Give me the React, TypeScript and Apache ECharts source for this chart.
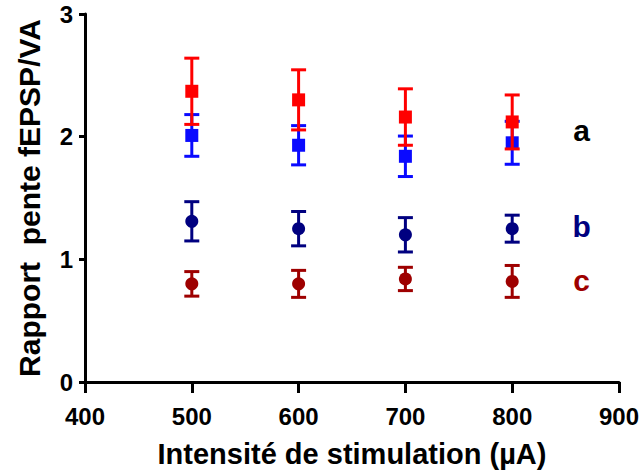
import React, { useEffect, useRef } from "react";
import * as echarts from "echarts";

const intensities = [500, 600, 700, 800];
const redMean = [2.37, 2.3, 2.16, 2.12];
const redErr = [0.27, 0.245, 0.23, 0.22];
const blueMean = [2.01, 1.93, 1.84, 1.95];
const blueErr = [0.17, 0.16, 0.165, 0.175];
const navyMean = [1.31, 1.25, 1.2, 1.25];
const navyErr = [0.16, 0.14, 0.14, 0.11];
const darkRedMean = [0.8, 0.8, 0.84, 0.82];
const darkRedErr = [0.1, 0.11, 0.095, 0.13];
const groupLabels = [
  { text: "a", y: 2.05, color: "#000000" },
  { text: "b", y: 1.27, color: "#000080" },
  { text: "c", y: 0.83, color: "#9e0000" },
];
const labelX = 865;

const FONT = "'Liberation Sans', Arial, sans-serif";

function errorSeries(means: number[], errs: number[], color: string, z: number) {
  return {
    type: "custom",
    z,
    silent: true,
    data: intensities.map((x, i) => [x, means[i] - errs[i], means[i] + errs[i]]),
    renderItem: (params: any, api: any) => {
      const x = api.value(0);
      const lo = api.coord([x, api.value(1)]);
      const hi = api.coord([x, api.value(2)]);
      const hw = 7.5;
      const style = { stroke: color, lineWidth: 3 };
      return {
        type: "group",
        children: [
          { type: "line", shape: { x1: lo[0], y1: lo[1], x2: hi[0], y2: hi[1] }, style },
          { type: "line", shape: { x1: lo[0] - hw, y1: lo[1], x2: lo[0] + hw, y2: lo[1] }, style },
          { type: "line", shape: { x1: hi[0] - hw, y1: hi[1], x2: hi[0] + hw, y2: hi[1] }, style },
        ],
      };
    },
  };
}

function pointSeries(means: number[], color: string, symbol: string, size: number, z: number) {
  return {
    type: "scatter",
    z,
    symbol,
    symbolSize: size,
    itemStyle: { color, opacity: 1 },
    data: intensities.map((x, i) => [x, means[i]]),
  };
}

export default function App() {
  const ref = useRef<HTMLDivElement>(null);
  useEffect(() => {
    if (!ref.current) return;
    const chart = echarts.init(ref.current, null, { renderer: "svg" });
    chart.setOption({
      animation: false,
      backgroundColor: "#ffffff",
      grid: { left: 85, right: 24, top: 14, bottom: 92 },
      xAxis: {
        type: "value",
        min: 400,
        max: 900,
        interval: 100,
        name: "Intensité de stimulation (µA)",
        nameLocation: "middle",
        nameGap: 57,
        nameTextStyle: { fontFamily: FONT, fontWeight: "bold", fontSize: 29, color: "#000" },
        axisLine: { lineStyle: { color: "#000", width: 3 } },
        axisTick: { length: 11, lineStyle: { color: "#000", width: 3 } },
        axisLabel: { margin: 22, fontFamily: FONT, fontWeight: "bold", fontSize: 24, color: "#000" },
        splitLine: { show: false },
      },
      yAxis: {
        type: "value",
        min: 0,
        max: 3,
        interval: 1,
        name: "Rapport  pente fEPSP/VA",
        nameLocation: "middle",
        nameGap: 41,
        nameTextStyle: { fontFamily: FONT, fontWeight: "bold", fontSize: 30, color: "#000" },
        axisLine: { lineStyle: { color: "#000", width: 3 } },
        axisTick: { length: 6, lineStyle: { color: "#000", width: 3 } },
        axisLabel: { margin: 12, fontFamily: FONT, fontWeight: "bold", fontSize: 24, color: "#000" },
        splitLine: { show: false },
      },
      series: [
        errorSeries(blueMean, blueErr, "#0a0aff", 2),
        pointSeries(blueMean, "#0a0aff", "rect", 13, 3),
        errorSeries(redMean, redErr, "#ff0000", 4),
        pointSeries(redMean, "#ff0000", "rect", 13, 5),
        errorSeries(navyMean, navyErr, "#000080", 2),
        pointSeries(navyMean, "#000080", "circle", 13, 3),
        errorSeries(darkRedMean, darkRedErr, "#9e0000", 2),
        pointSeries(darkRedMean, "#9e0000", "circle", 13, 3),
        {
          type: "scatter",
          symbolSize: 0,
          silent: true,
          itemStyle: { opacity: 1 },
          data: groupLabels.map((g) => ({
            value: [labelX, g.y],
            label: {
              show: true,
              position: "inside",
              formatter: g.text,
              fontFamily: FONT,
              fontWeight: "bold",
              fontSize: 30,
              color: g.color,
              opacity: 1,
            },
          })),
        },
      ],
    });
    return () => chart.dispose();
  }, []);
  return (
    <div
      ref={ref}
      style={{ position: "fixed", left: 0, top: 0, width: 643, height: 474 }}
    />
  );
}
